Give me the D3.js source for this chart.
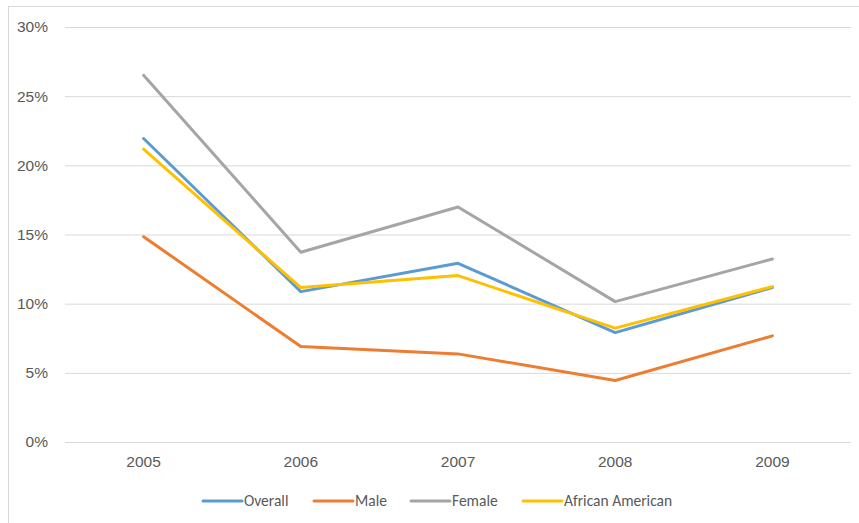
<!DOCTYPE html>
<html>
<head>
<meta charset="utf-8">
<script src="https://cdn.jsdelivr.net/npm/d3@7"></script>
<style>
  body { margin: 0; background: #fff; }
  svg { display: block; font-family: Carlito, Lato, "Open Sans", sans-serif; }
</style>
</head>
<body>
<div id="chart"></div>
<script>
const years = ["2005", "2006", "2007", "2008", "2009"];
const seriesNames = ["Overall", "Male", "Female", "African American"];
const overall = [21.94, 10.87, 12.92, 7.91, 11.17];
const male = [14.84, 6.9, 6.37, 4.45, 7.67];
const female = [26.51, 13.72, 16.99, 10.15, 13.23];
const africanAmerican = [21.17, 11.16, 12.03, 8.23, 11.23];
const yTicks = [0, 5, 10, 15, 20, 25, 30];
const colors = ["#5B9BD5", "#ED7D31", "#A5A5A5", "#FFC000"];

const series = [overall, male, female, africanAmerican].map((values, i) => ({
  name: seriesNames[i], color: colors[i], values
}));

const width = 859, height = 523;
const margin = { top: 27, right: 8, bottom: 81, left: 65 };
const fontSize = 15.5;

const svg = d3.select("#chart").append("svg")
  .attr("width", width)
  .attr("height", height);

// outer chart border
svg.append("rect")
  .attr("x", 8.5).attr("y", 6.5)
  .attr("width", width + 10).attr("height", height + 10)
  .attr("fill", "none")
  .attr("stroke", "#d9d9d9");

const x = d3.scaleBand(years, [margin.left, width - margin.right]);
const y = d3.scaleLinear([0, 30], [height - margin.bottom, margin.top]);

// gridlines + y labels
svg.append("g")
  .attr("transform", `translate(${margin.left},0)`)
  .call(d3.axisLeft(y).tickValues(yTicks).tickFormat(d => d + "%")
    .tickSize(-(width - margin.right - margin.left)).tickPadding(17))
  .call(g => g.select(".domain").remove())
  .call(g => g.selectAll(".tick line").attr("stroke", "#d9d9d9").attr("stroke-width", 1))
  .call(g => g.selectAll(".tick text").attr("fill", "#595959").attr("font-size", fontSize));

// x labels
svg.append("g")
  .attr("transform", `translate(0,${height - margin.bottom})`)
  .call(d3.axisBottom(x).tickSize(0).tickPadding(14))
  .call(g => g.select(".domain").remove())
  .call(g => g.selectAll(".tick text").attr("fill", "#595959").attr("font-size", fontSize));

const line = d3.line()
  .x((d, i) => x(years[i]) + x.bandwidth() / 2)
  .y(d => y(d));

svg.append("g")
  .selectAll("path")
  .data(series)
  .join("path")
    .attr("fill", "none")
    .attr("stroke", d => d.color)
    .attr("stroke-width", 3)
    .attr("stroke-linejoin", "round")
    .attr("stroke-linecap", "round")
    .attr("d", d => line(d.values));

// legend
const legendX = [203, 314, 411, 523];
const legend = svg.append("g")
  .selectAll("g")
  .data(series)
  .join("g")
    .attr("transform", (d, i) => `translate(${legendX[i]},501)`);

legend.append("line")
  .attr("x1", 0).attr("x2", 39)
  .attr("stroke", d => d.color)
  .attr("stroke-width", 3)
  .attr("stroke-linecap", "round");

legend.append("text")
  .attr("x", 41)
  .attr("dy", "0.35em")
  .attr("fill", "#595959")
  .attr("font-size", fontSize)
  .text(d => d.name);
</script>
</body>
</html>
